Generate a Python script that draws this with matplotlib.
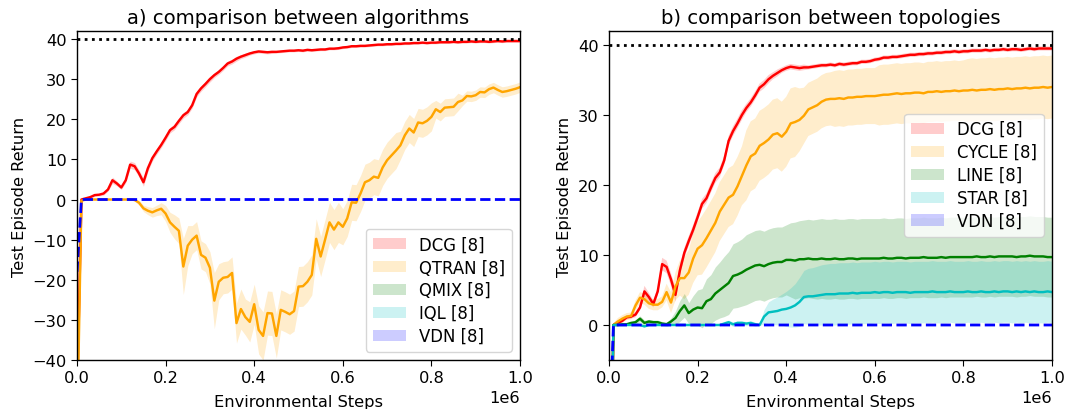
import numpy as np
import matplotlib
matplotlib.use("Agg")
import matplotlib.pyplot as plt

# ---------------- data ----------------
STEPS = np.arange(0, 1_000_001, 10_000)  # test every 10k environmental steps

DCG = [-50, 0, 0.3, 0.6, 1.1, 1.2, 1.5, 2.5, 4.8, 4.0,
       3.0, 4.8, 8.7, 8.3, 6.5, 4.3, 7.8, 10.3, 12.0, 13.6,
       15.4, 17.3, 18.1, 19.6, 21.0, 21.8, 23.5, 26.3, 27.7, 28.8,
       30.0, 31.0, 31.8, 32.8, 33.9, 34.4, 35.1, 35.6, 36.0, 36.4,
       36.7, 36.9, 36.8, 36.7, 36.8, 36.8, 36.9, 37.0, 37.1, 37.1,
       37.2, 37.1, 37.3, 37.2, 37.3, 37.4, 37.4, 37.6, 37.6, 37.7,
       37.9, 38.0, 38.2, 38.2, 38.3, 38.3, 38.4, 38.5, 38.6, 38.6,
       38.7, 38.7, 38.8, 38.8, 38.9, 38.9, 39.0, 39.0, 39.1, 39.0,
       39.1, 39.1, 39.2, 39.2, 39.2, 39.3, 39.2, 39.3, 39.3, 39.4,
       39.3, 39.4, 39.4, 39.3, 39.4, 39.5, 39.4, 39.5, 39.5, 39.5,
       39.5]
DCG_STD = [0, 0.3, 0.3, 0.3, 0.3, 0.3, 0.4, 0.4, 0.8, 0.6,
           0.5, 0.6, 0.9, 0.9, 0.9, 1.0, 0.8, 0.7, 0.7, 0.7,
           0.7, 0.7, 0.7, 0.7, 0.7, 0.7, 0.7, 0.7, 0.7, 0.7,
           0.7, 0.6, 0.6, 0.6, 0.6, 0.6, 0.6, 0.5, 0.5, 0.4,
           0.4, 0.4, 0.4, 0.4, 0.4, 0.3, 0.3, 0.3, 0.3, 0.3,
           0.3, 0.3, 0.3, 0.3, 0.3, 0.3, 0.3, 0.3, 0.3, 0.3,
           0.3, 0.3, 0.3, 0.3, 0.3, 0.3, 0.3, 0.3, 0.3, 0.3,
           0.3, 0.3, 0.3, 0.3, 0.3, 0.3, 0.3, 0.3, 0.3, 0.3,
           0.3, 0.3, 0.3, 0.3, 0.3, 0.3, 0.3, 0.3, 0.3, 0.3,
           0.3, 0.3, 0.3, 0.3, 0.3, 0.3, 0.3, 0.3, 0.3, 0.3,
           0.3]

QTRAN = [-60, -0.3, 0, 0, 0, 0, 0, 0, 0, 0,
         0, 0, 0, -0.1, -0.8, -2.2, -2.8, -3.2, -2.7, -2.3,
         -3.5, -5.7, -6.8, -7.8, -16.7, -11.5, -10.0, -9.0, -13.8, -14.5,
         -17.0, -25.2, -20.5, -19.5, -19.3, -18.3, -30.8, -27.3, -29.3, -30.5,
         -26.1, -32.5, -34.0, -28.3, -28.4, -34.0, -27.5, -28.0, -28.6, -27.8,
         -21.7, -21.6, -20.5, -18.8, -9.8, -14.2, -10.0, -5.7, -7.5, -5.7,
         -6.8, -4.7, -0.7, -0.8, 1.5, 4.3, 4.8, 5.7, 5.4, 8.0,
         9.8, 11.0, 12.2, 13.5, 16.0, 17.7, 16.7, 19.2, 19.0, 19.6,
         20.6, 22.5, 21.8, 22.9, 23.0, 23.1, 24.3, 24.7, 25.8, 25.7,
         26.0, 26.8, 26.7, 27.5, 27.9, 27.3, 26.8, 27.0, 27.3, 27.6,
         28.0]
QTRAN_STD = [0, 0.1, 0.1, 0.1, 0.1, 0.1, 0.1, 0.1, 0.1, 0.1,
             0.1, 0.1, 0.1, 0.3, 0.6, 0.8, 1.0, 1.2, 1.3, 1.5,
             2.0, 2.5, 3.0, 3.2, 7.0, 5.0, 3.5, 3.5, 3.5, 3.5,
             4.0, 7.0, 4.5, 4.0, 4.0, 4.0, 5.0, 5.0, 4.5, 5.0,
             5.0, 6.0, 6.0, 5.5, 5.5, 5.5, 5.0, 5.0, 5.0, 5.0,
             5.0, 5.0, 5.0, 5.0, 5.0, 5.0, 5.0, 5.0, 5.0, 5.0,
             4.5, 4.5, 4.5, 4.5, 4.5, 4.5, 4.5, 4.5, 4.5, 4.5,
             4.5, 4.5, 4.5, 3.5, 3.5, 3.5, 3.5, 3.5, 3.5, 3.5,
             3.5, 2.2, 2.2, 2.2, 2.2, 2.2, 2.2, 1.3, 1.3, 1.3,
             1.3, 1.3, 1.3, 1.3, 1.3, 1.3, 1.3, 1.3, 1.3, 1.3,
             1.3]

# QMIX and IQL stay below the visible range in panel a)
QMIX = [-60.0] + [-50.0] * 100
IQL = [-60.0] + [-50.0] * 100
VDN = [-18.0] + [0.0] * 100

CYCLE = [-40, 0, 0.5, 0.9, 1.2, 1.3, 2.8, 3.9, 3.7, 3.1,
         2.9, 2.9, 3.3, 4.7, 3.2, 5.5, 6.7, 6.7, 7.5, 9.5,
         10.9, 11.4, 12.4, 13.5, 14.6, 16.2, 17.2, 18.2, 18.6, 19.8,
         21.3, 22.8, 24.1, 24.5, 25.6, 26.0, 26.5, 27.2, 27.4, 26.9,
         27.6, 28.8, 29.0, 29.3, 29.9, 30.8, 31.1, 31.4, 31.9, 32.2,
         32.3, 32.3, 32.4, 32.3, 32.5, 32.5, 32.6, 32.6, 32.7, 32.7,
         32.7, 32.8, 32.9, 32.9, 33.0, 33.1, 33.0, 33.1, 33.1, 33.2,
         33.2, 33.1, 33.3, 33.3, 33.4, 33.3, 33.4, 33.4, 33.5, 33.4,
         33.5, 33.5, 33.6, 33.5, 33.6, 33.6, 33.7, 33.6, 33.7, 33.7,
         33.8, 33.7, 33.8, 33.8, 33.9, 33.8, 33.9, 33.9, 34.0, 33.9,
         34.0]
CYCLE_STD = [0, 0.2, 0.5, 0.5, 0.5, 0.5, 0.7, 0.8, 0.8, 0.8,
             0.8, 0.8, 0.8, 1.2, 1.5, 2.0, 2.5, 3.0, 3.2, 3.5,
             3.8, 4.2, 4.2, 4.2, 4.2, 4.2, 4.2, 4.2, 4.2, 4.2,
             4.2, 5.0, 5.0, 5.0, 5.0, 5.0, 5.0, 5.0, 5.0, 5.0,
             5.0, 5.0, 5.0, 4.5, 4.0, 3.8, 3.8, 3.8, 3.8, 3.8,
             3.8, 4.0, 4.0, 4.0, 4.0, 4.0, 4.0, 4.0, 4.0, 4.0,
             4.0, 4.3, 4.3, 4.3, 4.3, 4.3, 4.3, 4.3, 4.3, 4.3,
             4.3, 4.3, 4.3, 4.3, 4.3, 4.3, 4.3, 4.3, 4.3, 4.3,
             4.3, 4.5, 4.5, 4.5, 4.5, 4.5, 4.5, 4.5, 4.5, 4.5,
             4.5, 4.5, 4.5, 4.5, 4.5, 4.5, 4.5, 4.5, 4.5, 4.5,
             4.5]

LINE = [-40, 0, 0, 0.1, 0.1, 0.3, 0.4, 0.9, 0.3, 0.5,
        0.4, 0.4, 0.2, 0.1, 0.5, 1.0, 2.0, 2.8, 1.7, 2.2,
        2.5, 2.4, 3.4, 3.7, 4.5, 5.0, 5.5, 6.0, 7.0, 7.2,
        7.5, 7.9, 8.2, 8.5, 8.6, 8.4, 8.7, 8.9, 9.0, 9.0,
        9.3, 9.3, 9.2, 9.4, 9.4, 9.5, 9.4, 9.4, 9.5, 9.4,
        9.4, 9.5, 9.4, 9.4, 9.5, 9.5, 9.4, 9.5, 9.5, 9.5,
        9.5, 9.5, 9.6, 9.5, 9.5, 9.6, 9.6, 9.5, 9.6, 9.6,
        9.6, 9.7, 9.6, 9.6, 9.6, 9.7, 9.6, 9.7, 9.7, 9.7,
        9.7, 9.7, 9.7, 9.8, 9.7, 9.7, 9.8, 9.7, 9.8, 9.8,
        9.8, 9.8, 9.7, 9.8, 9.8, 9.9, 9.8, 9.8, 9.8, 9.7,
        9.7]
LINE_STD = [0, 0.1, 0.1, 0.1, 0.1, 0.1, 0.4, 0.4, 0.4, 0.3,
            0.3, 0.3, 0.3, 0.3, 0.5, 1.0, 1.5, 1.7, 1.5, 2.0,
            2.5, 2.8, 3.2, 3.5, 3.8, 4.0, 4.3, 4.5, 4.6, 4.7,
            4.8, 5.0, 5.0, 5.0, 5.0, 5.0, 5.0, 5.0, 5.0, 5.0,
            5.0, 5.3, 5.5, 5.5, 5.6, 5.6, 5.6, 5.7, 5.7, 5.7,
            5.7, 5.7, 5.7, 5.7, 5.7, 5.7, 5.7, 5.7, 5.7, 5.7,
            5.7, 5.7, 5.7, 5.7, 5.7, 5.7, 5.7, 5.7, 5.7, 5.7,
            5.7, 5.7, 5.7, 5.7, 5.7, 5.7, 5.7, 5.7, 5.7, 5.7,
            5.7, 5.7, 5.7, 5.7, 5.7, 5.7, 5.7, 5.7, 5.7, 5.7,
            5.7, 5.7, 5.7, 5.7, 5.7, 5.7, 5.7, 5.7, 5.7, 5.7,
            5.7]

STAR = [-40, 0, 0, 0, 0, 0, 0, 0, -0.2, 0,
        0, 0, 0, 0, 0, 0, 0, 0, 0, 0,
        0, 0, 0, 0, 0, 0, 0.2, 0.4, 0.1, 0.3,
        0.3, 0.2, 0.3, 0.1, 0.0, 1.2, 1.8, 1.9, 2.0, 2.2,
        2.3, 2.5, 2.8, 3.3, 4.0, 4.1, 4.1, 4.2, 4.3, 4.4,
        4.4, 4.4, 4.5, 4.5, 4.5, 4.6, 4.5, 4.6, 4.6, 4.6,
        4.7, 4.6, 4.7, 4.7, 4.6, 4.7, 4.7, 4.7, 4.6, 4.7,
        4.7, 4.7, 4.7, 4.8, 4.7, 4.7, 4.7, 4.8, 4.7, 4.7,
        4.7, 4.8, 4.7, 4.7, 4.8, 4.7, 4.7, 4.8, 4.7, 4.8,
        4.8, 4.7, 4.8, 4.7, 4.8, 4.7, 4.8, 4.7, 4.7, 4.8,
        4.7]
STAR_STD = [0, 0, 0, 0, 0, 0, 0, 0, 0, 0,
            0, 0, 0, 0, 0, 0, 0, 0, 0, 0,
            0, 0, 0, 0, 0, 0, 0.3, 0.3, 0.3, 0.3,
            0.3, 0.3, 0.3, 0.3, 0.1, 1.0, 1.5, 1.8, 2.0, 2.2,
            2.5, 2.8, 3.1, 3.5, 3.8, 4.0, 4.1, 4.2, 4.3, 4.3,
            4.4, 4.4, 4.4, 4.4, 4.4, 4.4, 4.4, 4.4, 4.4, 4.4,
            4.4, 4.4, 4.4, 4.4, 4.4, 4.4, 4.4, 4.4, 4.4, 4.4,
            4.4, 4.4, 4.4, 4.4, 4.4, 4.4, 4.4, 4.4, 4.4, 4.4,
            4.4, 4.4, 4.4, 4.4, 4.4, 4.4, 4.4, 4.4, 4.4, 4.4,
            4.4, 4.4, 4.4, 4.4, 4.4, 4.4, 4.4, 4.4, 4.4, 4.4,
            4.4]
ZERO_STD = [0.0] * 101

OPTIMUM = 40

PANEL_A = [("DCG [8]", DCG, DCG_STD, "red"),
           ("QTRAN [8]", QTRAN, QTRAN_STD, "orange"),
           ("QMIX [8]", QMIX, ZERO_STD, "green"),
           ("IQL [8]", IQL, ZERO_STD, "c"),
           ("VDN [8]", VDN, ZERO_STD, "blue")]
PANEL_B = [("DCG [8]", DCG, DCG_STD, "red"),
           ("CYCLE [8]", CYCLE, CYCLE_STD, "orange"),
           ("LINE [8]", LINE, LINE_STD, "green"),
           ("STAR [8]", STAR, STAR_STD, "c"),
           ("VDN [8]", VDN, ZERO_STD, "blue")]

FS = 11.7
plt.rcParams.update({"font.size": FS, "font.family": "DejaVu Sans",
                     "xtick.major.size": 4, "ytick.major.size": 4,
                     "axes.linewidth": 1.0})

fig = plt.figure(figsize=(10.65, 4.10), dpi=100)
W, H = 1065.0, 410.0
ax_a = fig.add_axes([77 / W, 1 - 361 / H, 443 / W, 329 / H])
ax_b = fig.add_axes([609 / W, 1 - 361 / H, 443 / W, 329 / H])


def draw(ax, series, title, ylim, yticks, legend_kw):
    x = STEPS
    handles = []
    for label, mean, std, col in series:
        m = np.asarray(mean, float)
        s = np.asarray(std, float)
        h = ax.fill_between(x, m - s, m + s, color=col, alpha=0.2,
                            linewidth=0, label=label)
        handles.append(h)
        if col == "blue":
            ax.plot(x, m, color=col, lw=2.0, ls=(0, (3.7, 1.6)))
        else:
            ax.plot(x, m, color=col, lw=1.75)
    ax.axhline(OPTIMUM, color="black", ls=(0, (1, 1.6)), lw=2.0)
    ax.set_xlim(0, 1e6)
    ax.set_ylim(*ylim)
    ax.set_yticks(yticks)
    ax.set_xticks([0, 2e5, 4e5, 6e5, 8e5, 1e6])
    ax.set_title(title, fontsize=14.1, pad=6)
    ax.set_xlabel("Environmental Steps", labelpad=6)
    ax.set_ylabel("Test Episode Return")
    ax.legend(handles=handles, fontsize=11.9, labelspacing=0.3, **legend_kw)


draw(ax_a, PANEL_A, "a) comparison between algorithms", (-40, 42),
     [-40, -30, -20, -10, 0, 10, 20, 30, 40], dict(loc="lower right"))
draw(ax_b, PANEL_B, "b) comparison between topologies", (-5, 42),
     [0, 10, 20, 30, 40], dict(loc="upper right", bbox_to_anchor=(1.0, 0.774)))

fig.savefig("out.png", dpi=100)
